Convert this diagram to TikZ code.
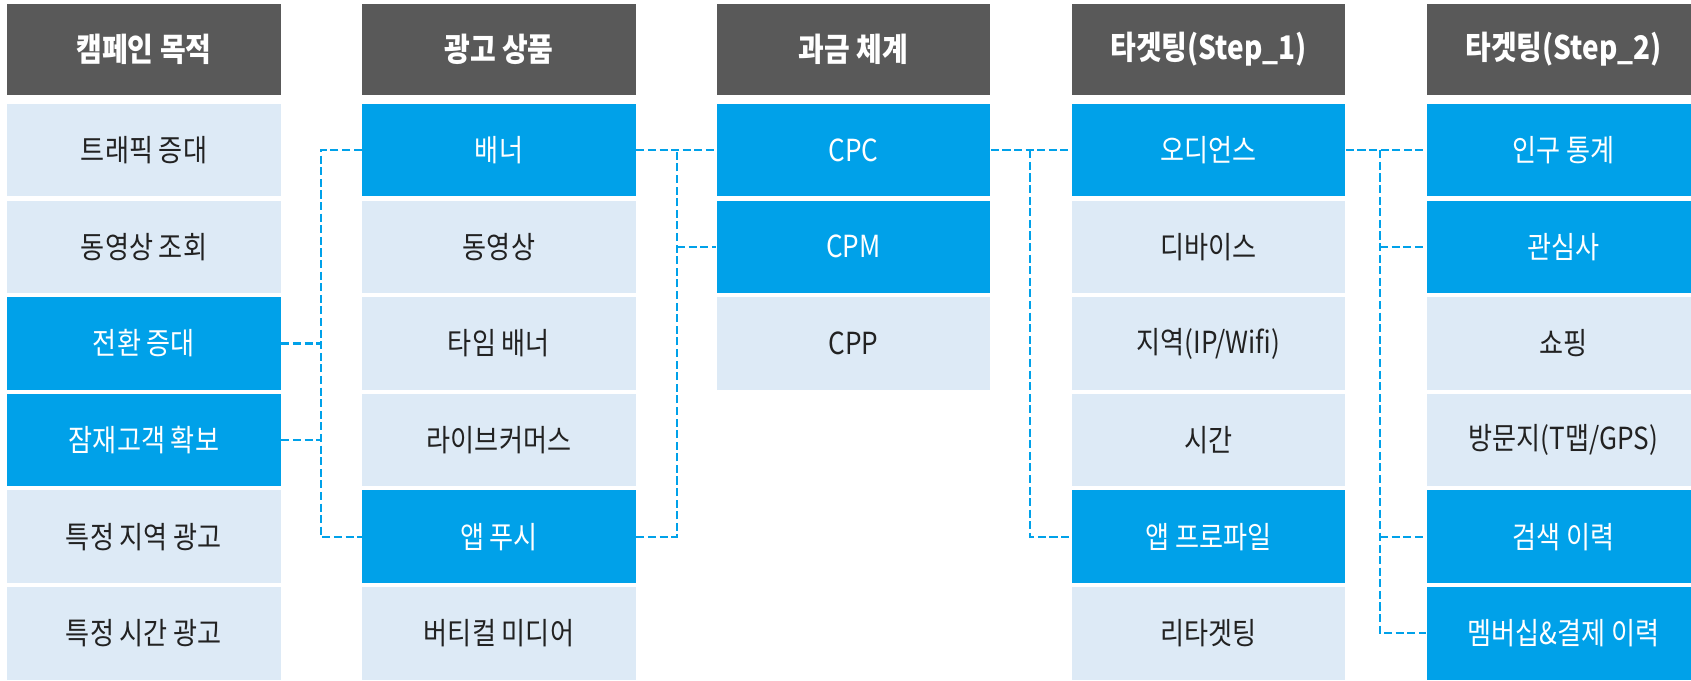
\documentclass[tikz,border=0pt]{standalone}
\usepackage{fontspec}
\setmainfont{Noto Sans CJK KR}[FakeStretch=0.86]
\usepackage{xcolor}
\definecolor{HeadGray}{RGB}{89,89,89}
\definecolor{PaleBlue}{RGB}{221,234,246}
\definecolor{SkyBlue}{RGB}{0,161,233}
\definecolor{InkGray}{RGB}{34,34,34}
\tikzset{
  head/.style  = {fill=HeadGray, text=white, minimum width=5.48cm,
                  minimum height=1.82cm, inner sep=0pt,
                  font=\bfseries\fontsize{18.5}{22}\selectfont},
  cell/.style  = {fill=PaleBlue, text=InkGray, minimum width=5.48cm,
                  minimum height=1.85cm, inner sep=0pt,
                  font=\fontsize{17.3}{20}\selectfont},
  hcell/.style = {cell, fill=SkyBlue, text=white},
  link/.style  = {SkyBlue, line width=1.3pt, dash pattern=on 4.6pt off 2pt}
}

\begin{document}
\begin{tikzpicture}[x=0.02cm, y=-0.02cm]
\useasboundingbox (0,0) rectangle (1691,680);
% headers
\node[head] (hObj)  at (144,49.5)    {캠페인 목적};
\node[head] (hProd) at (499,49.5)    {광고 상품};
\node[head] (hBill) at (853.5,49.5)  {과금 체계};
\node[head] (hTgtA) at (1208.5,49.5) {타겟팅(Step\_1)};
\node[head] (hTgtB) at (1563.5,49.5) {타겟팅(Step\_2)};
% columns
\foreach \s/\t [count=\i from 0] in {cell/트래픽 증대, cell/동영상 조회,
    hcell/전환 증대, hcell/잠재고객 확보, cell/특정 지역 광고, cell/특정 시간 광고}
  \node[\s] (obj\i) at (144,{150.25+96.6*\i}) {\t};
\foreach \s/\t [count=\i from 0] in {hcell/배너, cell/동영상, cell/타임 배너,
    cell/라이브커머스, hcell/앱 푸시, cell/버티컬 미디어}
  \node[\s] (prod\i) at (499,{150.25+96.6*\i}) {\t};
\foreach \s/\t [count=\i from 0] in {hcell/CPC, hcell/CPM, cell/CPP}
  \node[\s] (bill\i) at (853.5,{150.25+96.6*\i}) {\t};
\foreach \s/\t [count=\i from 0] in {hcell/오디언스, cell/디바이스,
    cell/{지역(IP/Wifi)}, cell/시간, hcell/앱 프로파일, cell/리타겟팅}
  \node[\s] (tgtA\i) at (1208.5,{150.25+96.6*\i}) {\t};
\foreach \s/\t [count=\i from 0] in {hcell/인구 통계, hcell/관심사, cell/쇼핑,
    cell/{방문지(T맵/GPS)}, hcell/검색 이력, hcell/멤버십\&결제 이력}
  \node[\s] (tgtB\i) at (1563.5,{150.25+96.6*\i}) {\t};
% joints of the dashed links
\coordinate (j1) at (320.7,0);
\coordinate (j2) at (677,0);
\coordinate (j3) at (1030,0);
\coordinate (j4) at (1380,0);
% objective -> product
\draw[link] (prod0.west) -| (j1 |- prod4.west) -- (prod4.west);
\draw[link] (obj2.east) -- (obj2.east -| j1);
\draw[link] (obj3.east) -- (obj3.east -| j1);
% product -> billing
\draw[link] (prod0.east) -- (bill0.west);
\draw[link] (prod4.east) -| (j2 |- prod0.east);
\draw[link] (j2 |- bill1.west) -- (bill1.west);
% billing -> targeting 1
\draw[link] (bill0.east) -- (tgtA0.west);
\draw[link] (j3 |- bill0.east) |- (tgtA4.west);
% targeting 1 -> targeting 2
\draw[link] (tgtA0.east) -- (tgtB0.west);
\draw[link] (j4 |- tgtA0.east) |- (tgtB5.west);
\draw[link] (j4 |- tgtB1.west) -- (tgtB1.west);
\draw[link] (j4 |- tgtB4.west) -- (tgtB4.west);
\end{tikzpicture}
\end{document}
